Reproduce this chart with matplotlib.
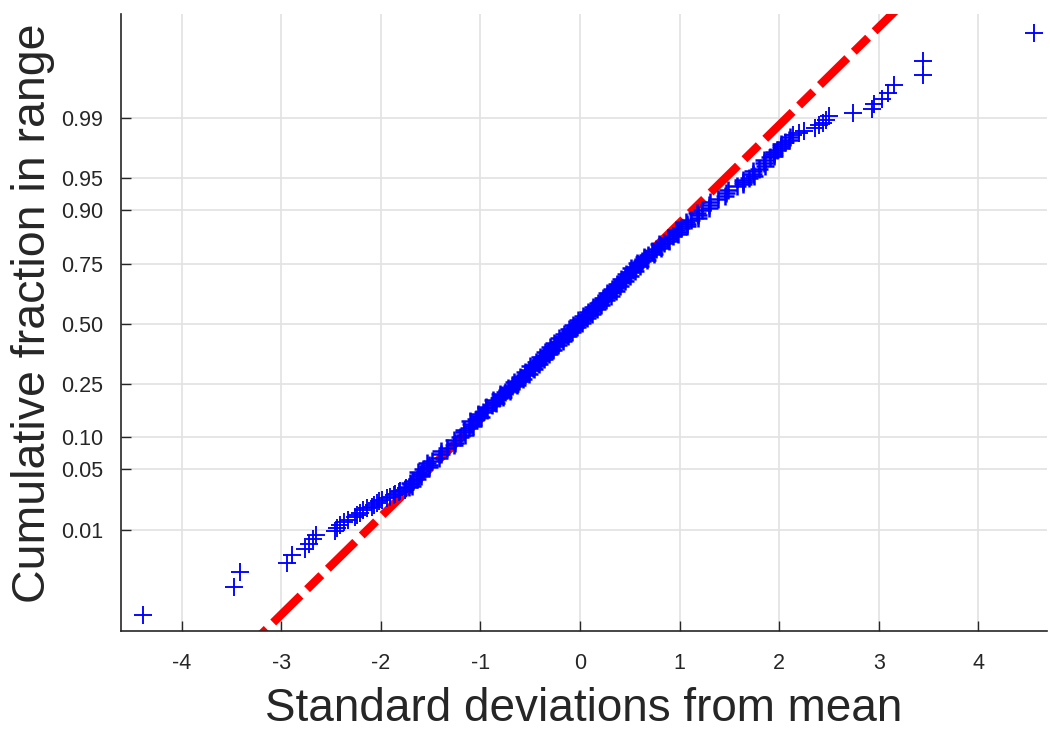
import matplotlib
matplotlib.use("Agg")
import matplotlib.pyplot as plt
import numpy as np
from statistics import NormalDist

# lower tail, individual points (cumulative fraction, sd from mean)
low_p = [0.0005, 0.0015, 0.0025, 0.0035, 0.0045, 0.0055, 0.0065, 0.0075,
         0.0085, 0.0095, 0.0105, 0.0115, 0.0125, 0.0135, 0.0145, 0.0155,
         0.0165, 0.0175, 0.0185, 0.0195, 0.0205, 0.0215, 0.0225, 0.0235,
         0.0245, 0.0255, 0.0265, 0.0275, 0.0285, 0.0295, 0.0305, 0.0315]
low_x = [-4.39, -3.48, -3.41, -2.94, -2.89, -2.76, -2.72, -2.68,
         -2.65, -2.46, -2.44, -2.41, -2.37, -2.33, -2.26, -2.24,
         -2.21, -2.18, -2.14, -2.09, -2.07, -2.04, -2.02, -1.99,
         -1.94, -1.91, -1.87, -1.86, -1.82, -1.81, -1.76, -1.75]

# dense central band
band_p = [0.0325, 0.035, 0.0375, 0.04, 0.045, 0.05, 0.055, 0.06, 0.07, 0.08, 0.09,
          0.10, 0.11, 0.12, 0.13, 0.14, 0.15, 0.16, 0.17, 0.18, 0.19,
          0.20, 0.21, 0.22, 0.23, 0.24, 0.25, 0.26, 0.27, 0.28, 0.29,
          0.30, 0.31, 0.32, 0.33, 0.34, 0.35, 0.36, 0.37, 0.38, 0.39,
          0.40, 0.41, 0.42, 0.43, 0.44, 0.45, 0.46, 0.47, 0.48, 0.49,
          0.50, 0.51, 0.52, 0.53, 0.54, 0.55, 0.56, 0.57, 0.58, 0.59,
          0.60, 0.61, 0.62, 0.63, 0.64, 0.65, 0.66, 0.67, 0.68, 0.69,
          0.70, 0.71, 0.72, 0.73, 0.74, 0.75, 0.76, 0.77, 0.78, 0.79,
          0.80, 0.81, 0.82, 0.83, 0.84, 0.85, 0.86, 0.87, 0.88, 0.89,
          0.90, 0.91, 0.92, 0.93,
          0.94, 0.945, 0.95, 0.955, 0.96, 0.965, 0.97, 0.9725, 0.975, 0.9775, 0.98, 0.9825]
band_x = [-1.72, -1.70, -1.68, -1.64, -1.61, -1.58, -1.52, -1.49, -1.40, -1.34, -1.26,
          -1.21, -1.17, -1.11, -1.09, -1.04, -1.01, -0.97, -0.94, -0.88, -0.86,
          -0.81, -0.78, -0.75, -0.70, -0.68, -0.64, -0.61, -0.59, -0.55, -0.53,
          -0.51, -0.47, -0.46, -0.42, -0.40, -0.38, -0.35, -0.33, -0.30, -0.29,
          -0.25, -0.24, -0.21, -0.18, -0.17, -0.13, -0.12, -0.09, -0.06, -0.05,
          -0.02, 0.00, 0.03, 0.05, 0.07, 0.10, 0.12, 0.15, 0.16, 0.20,
          0.21, 0.24, 0.27, 0.28, 0.31, 0.34, 0.35, 0.38, 0.41, 0.43,
          0.45, 0.48, 0.50, 0.53, 0.55, 0.58, 0.62, 0.65, 0.68, 0.73,
          0.76, 0.80, 0.84, 0.88, 0.93, 0.97, 1.01, 1.07, 1.11, 1.18,
          1.23, 1.30, 1.39, 1.47,
          1.58, 1.64, 1.70, 1.74, 1.80, 1.85, 1.91, 1.95, 1.98, 2.02, 2.06, 2.11]

# points lying between the ones above (band is thick, values scatter)
mid_p = [0.03375, 0.03625, 0.0425, 0.0475, 0.0525, 0.0575, 0.065, 0.075, 0.085, 0.095,
         0.105, 0.115, 0.125, 0.135, 0.145, 0.155, 0.165, 0.175, 0.185, 0.195,
         0.205, 0.215, 0.225, 0.235, 0.245, 0.255, 0.265, 0.275, 0.285, 0.295,
         0.305, 0.315, 0.325, 0.335, 0.345, 0.355, 0.365, 0.375, 0.385, 0.395,
         0.405, 0.415, 0.425, 0.435, 0.445, 0.455, 0.465, 0.475, 0.485, 0.495,
         0.505, 0.515, 0.525, 0.535, 0.545, 0.555, 0.565, 0.575, 0.585, 0.595,
         0.605, 0.615, 0.625, 0.635, 0.645, 0.655, 0.665, 0.675, 0.685, 0.695,
         0.705, 0.715, 0.725, 0.735, 0.745, 0.755, 0.765, 0.775, 0.785, 0.795,
         0.805, 0.815, 0.825, 0.835, 0.845, 0.855, 0.865, 0.875, 0.885, 0.895,
         0.905, 0.915, 0.925, 0.935,
         0.9425, 0.9475, 0.9525, 0.9575, 0.9625, 0.9675, 0.97125, 0.97375, 0.97625,
         0.97875, 0.98125]
mid_x = [-1.69, -1.71, -1.60, -1.63, -1.52, -1.54, -1.42, -1.40, -1.27, -1.27,
         -1.16, -1.17, -1.07, -1.10, -0.99, -1.02, -0.93, -0.94, -0.84, -0.87,
         -0.77, -0.80, -0.70, -0.72, -0.63, -0.66, -0.57, -0.60, -0.51, -0.55,
         -0.46, -0.50, -0.41, -0.44, -0.36, -0.40, -0.31, -0.35, -0.27, -0.30,
         -0.22, -0.26, -0.17, -0.21, -0.12, -0.16, -0.08, -0.11, -0.03, -0.07,
         0.02, -0.02, 0.07, 0.03, 0.12, 0.08, 0.17, 0.13, 0.21, 0.18,
         0.26, 0.23, 0.31, 0.27, 0.36, 0.32, 0.40, 0.37, 0.45, 0.41,
         0.50, 0.46, 0.55, 0.51, 0.60, 0.57, 0.67, 0.64, 0.74, 0.72,
         0.81, 0.79, 0.89, 0.88, 0.98, 0.96, 1.07, 1.06, 1.18, 1.17,
         1.30, 1.31, 1.46, 1.49,
         1.64, 1.64, 1.75, 1.74, 1.855, 1.85, 1.95, 1.945, 2.02,
         2.02, 2.10]

# upper tail, individual points
high_p = [0.9835, 0.9845, 0.9855, 0.9865, 0.9875, 0.9885, 0.9895, 0.9905, 0.9915,
          0.9925, 0.9935, 0.9945, 0.9955, 0.9965, 0.9975, 0.9985, 0.9995]
high_x = [2.14, 2.20, 2.25, 2.36, 2.40, 2.44, 2.47, 2.50, 2.74,
          2.93, 2.95, 3.03, 3.09, 3.15, 3.44, 3.44, 4.56]

ytick_vals = [0.01, 0.05, 0.10, 0.25, 0.50, 0.75, 0.90, 0.95, 0.99]
ytick_labels = ["0.01", "0.05", "0.10", "0.25", "0.50", "0.75", "0.90", "0.95", "0.99"]
xtick_vals = [-4, -3, -2, -1, 0, 1, 2, 3, 4]

_nd = NormalDist()


def prob_to_z(p):
    p = np.clip(np.asarray(p, dtype=float), 1e-12, 1 - 1e-12)
    return np.vectorize(_nd.inv_cdf, otypes=[float])(p)


def z_to_prob(z):
    z = np.asarray(z, dtype=float)
    return np.vectorize(_nd.cdf, otypes=[float])(z)


all_p = np.array(low_p + band_p + mid_p + high_p)
all_x = np.array(low_x + band_x + mid_x + high_x)
order = np.argsort(all_p)
all_p, all_x = all_p[order], all_x[order]

# reference line through the quartiles (as normplot does)
q1, q3 = np.interp([0.25, 0.75], all_p, all_x)
z1, z3 = prob_to_z([0.25, 0.75])
slope = (z3 - z1) / (q3 - q1)
line_x = np.array([all_x.min(), all_x.max()])
line_p = z_to_prob(z1 + slope * (line_x - q1))

plt.rcParams['font.family'] = ['Liberation Sans', 'DejaVu Sans']
plt.rcParams['axes.unicode_minus'] = False
dark = '#262626'

fig = plt.figure(figsize=(10.5, 7.29), dpi=100)
ax = fig.add_axes([121 / 1050, 1 - 631 / 729, (1047 - 121) / 1050, (631 - 14) / 729])
ax.set_yscale('function', functions=(prob_to_z, z_to_prob))

ax.plot(line_x, line_p, color='red', lw=6, dashes=[4.6, 1.1, 2.4, 1.1], zorder=2)
# thick band a bit heavier, sparse tails thinner
ax.plot(band_x + mid_x, band_p + mid_p, '+', color='blue', ms=12.5, mew=1.8, zorder=3)
ax.plot(low_x + high_x, low_p + high_p, '+', color='blue', ms=12.5, mew=1.35, zorder=3)

ax.set_xlim(-4.61, 4.69)
ax.set_ylim(z_to_prob(-3.47), z_to_prob(3.50))
ax.set_xticks(xtick_vals)
ax.set_xticklabels([str(v) for v in xtick_vals])
ax.set_yticks(ytick_vals)
ax.set_yticklabels(ytick_labels)
ax.yaxis.set_minor_locator(matplotlib.ticker.NullLocator())
ax.xaxis.set_minor_locator(matplotlib.ticker.NullLocator())

ax.grid(True, color='#e2e2e2', lw=1.2)
ax.set_axisbelow(True)
for s in ['top', 'right']:
    ax.spines[s].set_visible(False)
for s in ['left', 'bottom']:
    ax.spines[s].set_color(dark)
    ax.spines[s].set_linewidth(1.2)
ax.tick_params(direction='in', length=7, width=1, colors=dark, labelsize=15.5)
ax.tick_params(axis='x', pad=16)
ax.tick_params(axis='y', pad=13)

ax.set_xlabel('Standard deviations from mean', fontsize=33, color=dark, labelpad=9)
ax.set_ylabel('Cumulative fraction in range', fontsize=33.5, color=dark, labelpad=4)
ax.yaxis.label.set_y(0.515)

fig.savefig('out.png', dpi=100)
